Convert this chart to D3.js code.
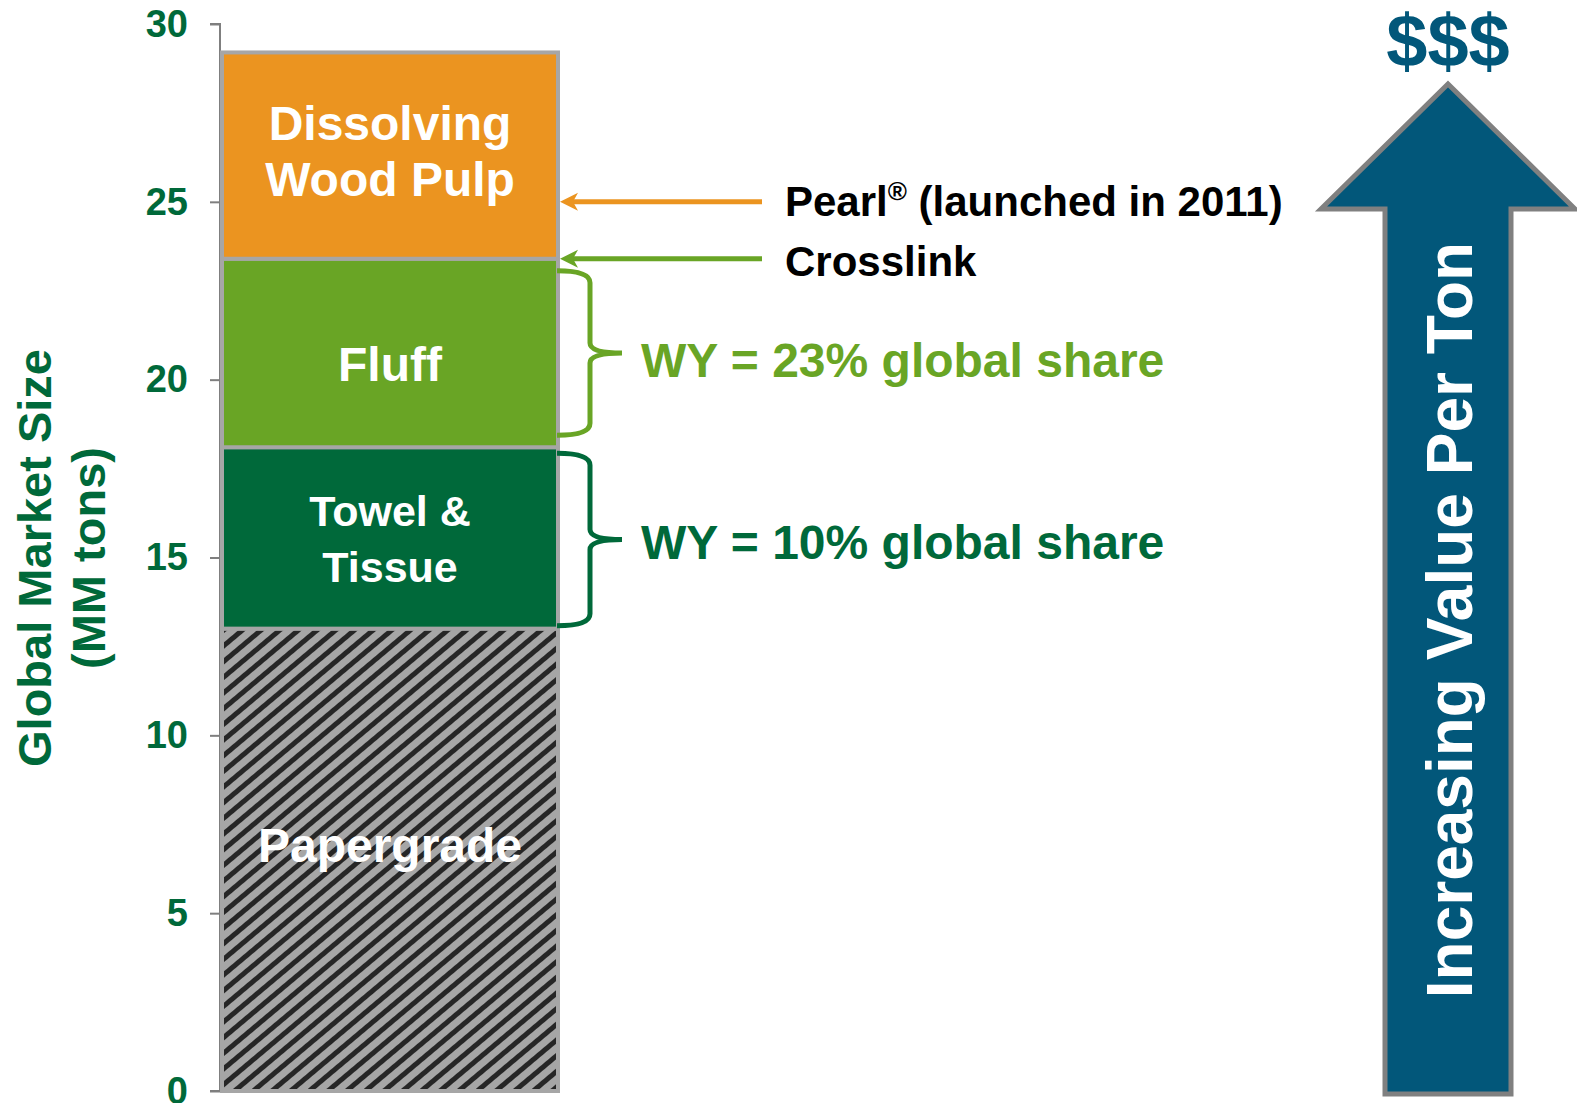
<!DOCTYPE html>
<html lang="en">
<head>
<meta charset="UTF-8">
<title>Global Market Size</title>
<style>
  body { margin: 0; background: #fff; }
  svg { display: block; font-family: "Liberation Sans", Arial, sans-serif; font-weight: bold; }
  .axis path, .axis line { stroke: #7f7f7f; stroke-width: 2px; }
  .axis text { fill: #00693a; font-size: 38px; font-weight: bold; }
</style>
</head>
<body>
<svg width="1577" height="1103"></svg>
<script src="https://d3js.org/d3.v7.min.js"></script>
<script>
// data
var categories = ["Papergrade", "Towel & Tissue", "Fluff", "Dissolving Wood Pulp"];
var sizes = [13, 5.1, 5.3, 5.8];
var labelLines = [["Papergrade"], ["Towel &", "Tissue"], ["Fluff"], ["Dissolving", "Wood Pulp"]];
var colors = ["url(#hatch)", "#00693a", "#69a525", "#eb9420"];
var yTicks = [0, 5, 10, 15, 20, 25, 30];
var shareTexts = ["WY = 10% global share", "WY = 23% global share"];
var shareCats = ["Towel & Tissue", "Fluff"];
var shareColors = ["#00693a", "#69a525"];
var pointerValues = [25, 23.4];
var pointerColors = ["#eb9420", "#69a525"];

var svg = d3.select("svg");

var y = d3.scaleLinear().domain([0, 30]).range([1091, 24]);
var x = d3.scaleBand().domain(["market"]).range([222, 558]).padding(0);

var tops = d3.cumsum(sizes);
var segs = categories.map(function (c, i) {
  return { cat: c, y0: tops[i] - sizes[i], y1: tops[i], lines: labelLines[i], color: colors[i] };
});

// hatch pattern for papergrade
var defs = svg.append("defs");
var pat = defs.append("pattern")
    .attr("id", "hatch")
    .attr("patternUnits", "userSpaceOnUse")
    .attr("width", 12).attr("height", 12)
    .attr("patternTransform", "rotate(50)");
pat.append("rect").attr("width", 12).attr("height", 12).attr("fill", "#a6a6a6");
pat.append("rect").attr("x", 0).attr("width", 5).attr("height", 12).attr("fill", "#262626");

// axis
var yAxis = d3.axisLeft(y).tickValues(yTicks).tickSize(10).tickPadding(22);
svg.append("g")
    .attr("class", "axis")
    .attr("transform", "translate(220,0)")
    .call(yAxis)
    .call(function (g) { g.select(".domain").attr("d", "M-10," + y(30) + "H0V" + y(0) + "H-10"); });

// stacked bar
svg.append("g").selectAll("rect")
  .data(segs)
  .join("rect")
    .attr("x", x("market"))
    .attr("width", x.bandwidth())
    .attr("y", function (d) { return y(d.y1); })
    .attr("height", function (d) { return y(d.y0) - y(d.y1); })
    .attr("fill", function (d) { return d.color; })
    .attr("stroke", "#a6a6a6")
    .attr("stroke-width", 4);

// segment labels
var cx = x("market") + x.bandwidth() / 2;
var lab = svg.append("g").selectAll("text")
  .data(segs)
  .join("text")
    .attr("text-anchor", "middle")
    .attr("fill", "#fff")
    .style("font-size", function (d) { return d.cat == "Towel & Tissue" ? "43px" : "48px"; })
    .attr("transform", function (d) {
      var mid = y((d.y0 + d.y1) / 2);
      if (d.cat == "Papergrade") mid = y(6.9);
      if (d.cat == "Fluff") mid = mid + 12;
      if (d.cat == "Dissolving Wood Pulp") mid = mid - 4;
      var n = d.lines.length;
      return "translate(" + cx + "," + (mid + 16 - (n - 1) * 28) + ")";
    });
lab.selectAll("tspan")
  .data(function (d) { return d.lines; })
  .join("tspan")
    .attr("x", 0)
    .attr("dy", function (d, i) { return i ? 56 : 0; })
    .text(function (d) { return d; });

// pointer arrows on the right
var px0 = 560, px1 = 762;
pointerValues.forEach(function (v, i) {
  var yy = y(v);
  svg.append("line")
      .attr("x1", px0 + 10).attr("x2", px1)
      .attr("y1", yy).attr("y2", yy)
      .attr("stroke", pointerColors[i]).attr("stroke-width", 5);
  svg.append("path")
      .attr("d", "M" + px0 + "," + yy + "L" + (px0 + 18) + "," + (yy - 9) + "L" + (px0 + 13) + "," + yy + "L" + (px0 + 18) + "," + (yy + 9) + "Z")
      .attr("fill", pointerColors[i]);
});

var pearl = svg.append("text").attr("x", 785).attr("y", 216).attr("fill", "#000").style("font-size", "42px");
pearl.append("tspan").text("Pearl");
pearl.append("tspan").attr("dy", -16).style("font-size", "26px").text("®");
pearl.append("tspan").attr("dy", 16).text(" (launched in 2011)");
svg.append("text").attr("x", 785).attr("y", 276).attr("fill", "#000").style("font-size", "42px").text("Crosslink");

// braces + share text
shareCats.forEach(function (c, i) {
  var s = segs[categories.indexOf(c)];
  var y0 = y(s.y1) + (i ? 12 : 6), y1 = y(s.y0) - (i ? 12 : 3), ym = (y0 + y1) / 2;
  var x0 = 557, xv = 590, xt = 622;
  var p = "M" + x0 + "," + y0 +
    "Q" + xv + "," + y0 + " " + xv + "," + (y0 + 12) +
    "L" + xv + "," + (ym - 10) +
    "Q" + xv + "," + ym + " " + xt + "," + ym +
    "Q" + xv + "," + ym + " " + xv + "," + (ym + 10) +
    "L" + xv + "," + (y1 - 12) +
    "Q" + xv + "," + y1 + " " + x0 + "," + y1;
  svg.append("path").attr("d", p).attr("fill", "none")
      .attr("stroke", shareColors[i]).attr("stroke-width", 5);
  svg.append("text").attr("x", 641).attr("y", ym + (i ? 24 : 20))
      .attr("fill", shareColors[i]).style("font-size", "48px")
      .text(shareTexts[i]);
});

// y axis title
var yt = svg.append("text")
    .attr("transform", "translate(51,558) rotate(-90)")
    .attr("text-anchor", "middle")
    .attr("fill", "#00693a")
    .style("font-size", "47px");
yt.append("tspan").attr("x", 0).text("Global Market Size");
yt.append("tspan").attr("x", 0).attr("dy", 54).text("(MM tons)");

// increasing value arrow
var ab = y(0) + 3;
var arrow = [[1448, 84], [1575, 209], [1511, 209], [1511, ab], [1385, ab], [1385, 209], [1321, 209]];
svg.append("path")
    .attr("d", d3.line()(arrow) + "Z")
    .attr("fill", "#02577a")
    .attr("stroke", "#808080")
    .attr("stroke-width", 5)
    .attr("stroke-linejoin", "miter");
svg.append("text")
    .attr("transform", "translate(1472,620) rotate(-90)")
    .attr("text-anchor", "middle")
    .attr("fill", "#fff")
    .style("font-size", "64px")
    .text("Increasing Value Per Ton");
svg.append("text")
    .attr("x", 1448).attr("y", 66)
    .attr("text-anchor", "middle")
    .attr("fill", "#02577a")
    .style("font-size", "74px")
    .text("$$$");
</script>
</body>
</html>
